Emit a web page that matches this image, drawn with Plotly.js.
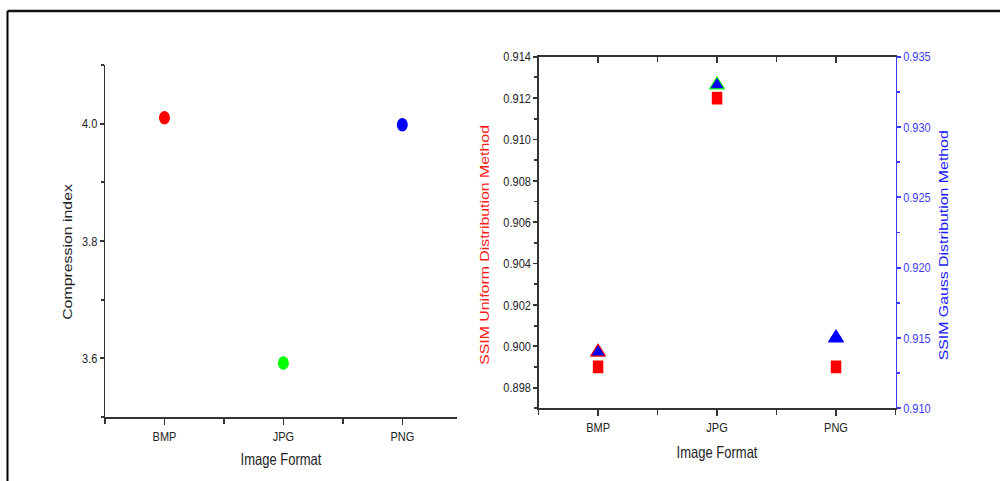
<!DOCTYPE html>
<html>
<head>
<meta charset="utf-8">
<script src="https://cdn.plot.ly/plotly-3.0.1.min.js"></script>
<style>
  html, body { margin: 0; padding: 0; background: #ffffff; overflow: hidden; }
  #wrap { width: 1000px; height: 481px; overflow: hidden; }
  /* figure is laid out at a shorter height and stretched vertically */
  #chart { width: 1000px; height: 394px; transform: scaleY(1.2208); transform-origin: 0 0; }
</style>
</head>
<body>
<div id="wrap"><div id="chart"></div></div>
<script>
// Image formats compared
const formats = ['BMP', 'JPG', 'PNG'];
const formatPos = [0, 1, 2];

// Compression index per format
const compressionIndex = [4.01, 3.592, 3.998];
const compressionColors = ['#ff0000', '#00ff00', '#0000ff'];

// SSIM results for the two distribution methods
const ssimUniform = [0.899, 0.912, 0.899];
const ssimGauss = [0.914, 0.933, 0.915];
const gaussEdgeColors = ['#ff0000', '#00ff00', '#0000ff'];

// axis titles
const xTitle = 'Image Format';
const compressionTitle = 'Compression index';
const uniformTitle = 'SSIM Uniform Distribution Method';
const gaussTitle = 'SSIM Gauss Distribution Method';

const FONT = 'Arial, "Liberation Sans", sans-serif';
const AXC = '#333333';
const BLUE = '#3c3cff';

const traces = [
  {
    x: formatPos, y: compressionIndex, xaxis: 'x', yaxis: 'y',
    type: 'scatter', mode: 'markers', name: compressionTitle,
    marker: { symbol: 'circle', size: 11, color: compressionColors, line: { width: 0 } }
  },
  {
    x: formatPos, y: ssimUniform, xaxis: 'x2', yaxis: 'y2',
    type: 'scatter', mode: 'markers', name: uniformTitle,
    marker: { symbol: 'square', size: 10.5, color: '#ff0000', line: { width: 0 } }
  },
  {
    x: formatPos, y: ssimGauss, xaxis: 'x2', yaxis: 'y3',
    type: 'scatter', mode: 'markers', name: gaussTitle,
    marker: { symbol: 'triangle-up', size: 13, color: '#0000ff',
              line: { width: 1, color: gaussEdgeColors } }
  },
  // invisible helper so the top frame axis of the right panel is drawn
  {
    x: formatPos, y: ssimUniform, xaxis: 'x3', yaxis: 'y2',
    type: 'scatter', mode: 'markers', hoverinfo: 'skip', showlegend: false,
    marker: { opacity: 0 }
  }
];

const tickFont = { family: FONT, size: 11, color: '#222222' };
const titleFont = { family: FONT, size: 13, color: '#222222' };

function catAxis(domain, range, anchor) {
  return {
    domain: domain, range: range, anchor: anchor,
    tickmode: 'array', tickvals: formatPos, ticktext: formats,
    ticks: 'outside', ticklen: 5, tickwidth: 1.5, tickcolor: AXC,
    minor: { tickmode: 'linear', tick0: 0.5, dtick: 1, ticks: 'outside', ticklen: 4, tickwidth: 1.5, tickcolor: AXC },
    showline: true, linecolor: AXC, linewidth: 1.5,
    showgrid: false, zeroline: false, fixedrange: true,
    tickfont: tickFont
  };
}

function sideTitle(text, x, y, color) {
  return {
    text: text, xref: 'paper', yref: 'paper', x: x, y: y,
    xanchor: 'center', yanchor: 'middle', textangle: -90, showarrow: false,
    font: { family: FONT, size: 13, color: color }
  };
}

const layout = {
  width: 1000, height: 394,
  margin: { l: 0, r: 0, t: 0, b: 0, pad: 0 },
  paper_bgcolor: '#ffffff', plot_bgcolor: '#ffffff',
  showlegend: false,
  font: { family: FONT },
  xaxis: Object.assign(catAxis([0.105, 0.457], [-0.5, 2.46], 'y'), {
    title: { text: xTitle, font: titleFont, standoff: 9 }
  }),
  yaxis: {
    domain: [0.1331, 0.8649], range: [3.5, 4.1], anchor: 'x',
    tickmode: 'linear', tick0: 3.6, dtick: 0.2, tickformat: '.1f',
    ticks: 'outside', ticklen: 4, tickwidth: 1.5, tickcolor: AXC,
    minor: { tickmode: 'linear', tick0: 3.5, dtick: 0.1, ticks: 'outside', ticklen: 3, tickwidth: 1.5, tickcolor: AXC },
    showline: true, linecolor: AXC, linewidth: 1.5,
    showgrid: false, zeroline: false, fixedrange: true,
    tickfont: tickFont
  },
  xaxis2: Object.assign(catAxis([0.5386, 0.8955], [-0.5, 2.5], 'y2'), {
    title: { text: xTitle, font: titleFont, standoff: 11 }
  }),
  xaxis3: {
    domain: [0.5386, 0.8955], range: [-0.5, 2.5], anchor: 'y2', overlaying: 'x2', side: 'top',
    tickmode: 'array', tickvals: formatPos, showticklabels: false,
    ticks: 'inside', ticklen: 5, tickwidth: 1.5, tickcolor: AXC,
    minor: { tickmode: 'linear', tick0: 0.5, dtick: 1, ticks: 'inside', ticklen: 4, tickwidth: 1.5, tickcolor: AXC },
    showline: true, linecolor: AXC, linewidth: 1.5,
    showgrid: false, zeroline: false, fixedrange: true
  },
  yaxis2: {
    domain: [0.1511, 0.8821], range: [0.897, 0.914], anchor: 'x2',
    tickmode: 'linear', tick0: 0.898, dtick: 0.002, tickformat: '.3f',
    ticks: 'outside', ticklen: 4, tickwidth: 1.5, tickcolor: AXC,
    minor: { tickmode: 'linear', tick0: 0.897, dtick: 0.001, ticks: 'outside', ticklen: 3, tickwidth: 1.5, tickcolor: AXC },
    showline: true, linecolor: AXC, linewidth: 1.5,
    showgrid: false, zeroline: false, fixedrange: true,
    tickfont: tickFont
  },
  yaxis3: {
    domain: [0.1511, 0.8821], range: [0.910, 0.935], anchor: 'x2',
    overlaying: 'y2', side: 'right',
    tickmode: 'linear', tick0: 0.910, dtick: 0.005, tickformat: '.3f',
    ticks: 'outside', ticklen: 4, tickwidth: 1.5, tickcolor: BLUE,
    minor: { tickmode: 'linear', tick0: 0.9125, dtick: 0.005, ticks: 'outside', ticklen: 3, tickwidth: 1.5, tickcolor: BLUE },
    showline: true, linecolor: BLUE, linewidth: 1.5,
    showgrid: false, zeroline: false, fixedrange: true,
    tickfont: { family: FONT, size: 11, color: BLUE }
  },
  annotations: [
    sideTitle(compressionTitle, 0.067, 0.4771, '#222222'),
    sideTitle(uniformTitle, 0.4852, 0.4906, '#ff1a1a'),
    sideTitle(gaussTitle, 0.9435, 0.4906, '#1a1aff')
  ],
  // outer figure frame (top and left edges)
  shapes: [
    { type: 'line', xref: 'paper', yref: 'paper', x0: 0.0075, x1: 1.0, y0: 0.9771, y1: 0.9771,
      line: { color: '#111111', width: 2 } },
    { type: 'line', xref: 'paper', yref: 'paper', x0: 0.0075, x1: 0.0075, y0: 0.0, y1: 0.9771,
      line: { color: '#000000', width: 2 } }
  ]
};

Plotly.newPlot('chart', traces, layout, { displayModeBar: false, staticPlot: true });
</script>
</body>
</html>
